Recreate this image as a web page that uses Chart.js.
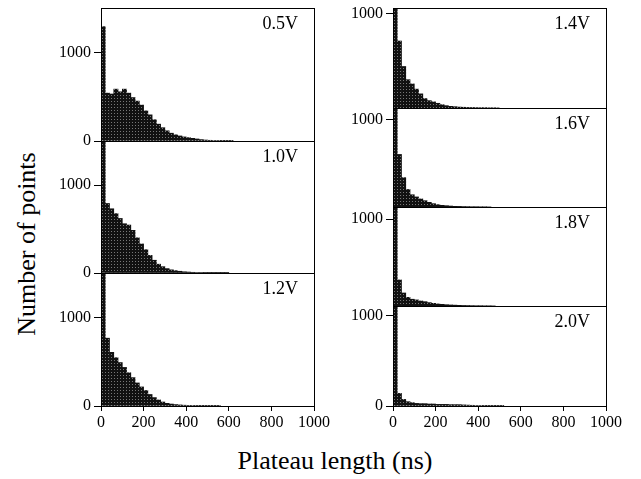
<!DOCTYPE html>
<html>
<head>
<meta charset="utf-8">
<script src="https://cdn.jsdelivr.net/npm/chart.js@4.4.0/dist/chart.umd.min.js"></script>
<style>
  body { margin: 0; background: #fff; width: 641px; height: 479px; position: relative; overflow: hidden; font-family: "Liberation Serif", serif; }
  canvas { position: absolute; }
  .title { position: absolute; color: #000; white-space: nowrap; font-size: 26px; line-height: 26px; }
  #xTitle { left: 335px; top: 448px; transform: translateX(-50%); }
  #yTitle { left: 27px; top: 244px; transform: translate(-50%, -50%) rotate(-90deg); }
</style>
</head>
<body>
<div class="title" id="xTitle">Plateau length (ns)</div>
<div class="title" id="yTitle">Number of points</div>
<script>
// --- datos: histogramas de longitud de meseta (bins de 20 ns) ---
const binStarts = [0, 20, 40, 60, 80, 100, 120, 140, 160, 180, 200, 220, 240, 260, 280, 300, 320, 340, 360, 380,
                   400, 420, 440, 460, 480, 500, 520, 540, 560, 580, 600, 620, 640, 660, 680, 700];
const panelLabels = ['0.5V', '1.0V', '1.2V', '1.4V', '1.6V', '1.8V', '2.0V'];

const counts05 = [1290, 540, 530, 585, 555, 585, 540, 490, 450, 405, 340, 295, 240, 190, 150, 115, 88, 70, 57, 46,
                  38, 30, 23, 16, 11, 8, 6, 5, 4, 3, 2];
const counts10 = [1650, 790, 730, 675, 620, 560, 545, 485, 400, 330, 265, 200, 145, 100, 72, 50, 36, 27, 20, 14,
                  11, 8, 6, 5, 4, 3, 3, 2, 2, 1];
const counts12 = [1650, 765, 605, 545, 490, 435, 375, 320, 260, 215, 175, 130, 95, 68, 45, 30, 22, 16, 12, 9,
                  7, 5, 4, 3, 3, 2, 2, 1];
const counts14 = [1400, 710, 440, 300, 255, 200, 150, 100, 78, 65, 50, 35, 25, 18, 14, 10, 8, 6, 5, 4,
                  3, 3, 2, 2, 1];
const counts16 = [1400, 600, 335, 200, 140, 115, 92, 72, 53, 38, 27, 19, 15, 11, 8, 7, 5, 4, 3, 3,
                  2, 2, 1];
const counts18 = [1400, 300, 150, 100, 78, 70, 58, 50, 39, 31, 24, 19, 15, 12, 10, 8, 6, 5, 4, 3,
                  3, 2, 2, 1];
const counts20 = [1400, 140, 73, 48, 37, 29, 26, 26, 22, 22, 18, 18, 18, 15, 15, 15, 12, 10, 8, 6,
                  5, 4, 3, 2, 2, 1];

const xTicks = [0, 200, 400, 600, 800, 1000];
const yTicksLeft = [0, 1000];
const yTicksRight = [1000];
const yTicksRightBottom = [0, 1000];
const yMaxLeft = [1500, 1500, 1500];
const yMaxRight = [1060, 1130, 1140, 1110];

// --- geometría de los paneles (px de la página) ---
const AXIS_W = 48, PAD_T = 16, PAD_R = 22, PAD_B = 16, XAXIS_H = 28, PLOT_W = 213;

const panels = [
  { label: panelLabels[0], data: counts05, left: 101, top: 8,   h: 133, yMax: yMaxLeft[0],  yTicks: yTicksLeft,  bottom: false },
  { label: panelLabels[1], data: counts10, left: 101, top: 141, h: 132, yMax: yMaxLeft[1],  yTicks: yTicksLeft,  bottom: false },
  { label: panelLabels[2], data: counts12, left: 101, top: 273, h: 133, yMax: yMaxLeft[2],  yTicks: yTicksLeft,  bottom: true },
  { label: panelLabels[3], data: counts14, left: 393, top: 8,   h: 100, yMax: yMaxRight[0], yTicks: yTicksRight, bottom: false },
  { label: panelLabels[4], data: counts16, left: 393, top: 108, h: 99,  yMax: yMaxRight[1], yTicks: yTicksRight, bottom: false },
  { label: panelLabels[5], data: counts18, left: 393, top: 207, h: 99,  yMax: yMaxRight[2], yTicks: yTicksRight, bottom: false },
  { label: panelLabels[6], data: counts20, left: 393, top: 306, h: 100, yMax: yMaxRight[3], yTicks: yTicksRightBottom, bottom: true }
];

// relleno tipo trama (barras negras con puntos grises)
function makePattern() {
  const c = document.createElement('canvas');
  c.width = 3; c.height = 3;
  const g = c.getContext('2d');
  g.fillStyle = '#111'; g.fillRect(0, 0, 3, 3);
  g.fillStyle = '#777'; g.fillRect(1, 1, 1, 1);
  return g.createPattern(c, 'repeat');
}

// marco del panel + etiqueta de voltaje
const framePlugin = {
  id: 'panelFrame',
  afterDatasetsDraw(chart, args, opts) {
    const { ctx, chartArea: a } = chart;
    ctx.save();
    ctx.strokeStyle = '#000';
    ctx.lineWidth = 1;
    ctx.strokeRect(a.left + 0.5, a.top + 0.5, a.right - a.left, a.bottom - a.top);
    ctx.fillStyle = '#000';
    ctx.font = '18px "Liberation Serif"';
    ctx.textAlign = 'right';
    ctx.textBaseline = 'alphabetic';
    ctx.fillText(opts.label, a.right - 16, a.top + 21);
    ctx.restore();
  }
};

const tickFont = { family: 'Liberation Serif', size: 16 };
const plain = v => String(v);

panels.forEach(p => {
  const cv = document.createElement('canvas');
  const w = AXIS_W + PLOT_W + PAD_R;
  const h = PAD_T + p.h + (p.bottom ? XAXIS_H + 2 : PAD_B);
  cv.width = w; cv.height = h;
  cv.style.left = (p.left - AXIS_W) + 'px';
  cv.style.top = (p.top - PAD_T) + 'px';
  document.body.appendChild(cv);

  const pts = p.data.map((v, i) => ({ x: binStarts[i] + 10, y: v }));

  new Chart(cv, {
    type: 'bar',
    data: {
      datasets: [{
        data: pts,
        backgroundColor: makePattern(),
        borderWidth: 0,
        barPercentage: 1,
        categoryPercentage: 1
      }]
    },
    options: {
      responsive: false,
      animation: false,
      devicePixelRatio: 1,
      layout: { padding: { top: PAD_T, right: PAD_R, bottom: p.bottom ? 2 : PAD_B, left: 0 } },
      plugins: {
        legend: { display: false },
        tooltip: { enabled: false },
        panelFrame: { label: p.label }
      },
      scales: {
        x: {
          type: 'linear', min: 0, max: 1000, offset: false, display: p.bottom,
          afterBuildTicks: s => { s.ticks = xTicks.map(v => ({ value: v })); },
          afterFit: s => { if (p.bottom) s.height = XAXIS_H; },
          grid: { drawOnChartArea: false, drawTicks: true, tickLength: 5, color: '#000', offset: false },
          border: { display: false },
          ticks: { color: '#000', font: tickFont, padding: 2, maxRotation: 0, autoSkip: false, callback: plain }
        },
        y: {
          min: 0, max: p.yMax,
          afterBuildTicks: s => { s.ticks = p.yTicks.map(v => ({ value: v })); },
          afterFit: s => { s.width = AXIS_W; },
          grid: { drawOnChartArea: false, drawTicks: true, tickLength: 7, color: '#000' },
          border: { display: false },
          ticks: { color: '#000', font: tickFont, padding: 3, callback: plain }
        }
      }
    },
    plugins: [framePlugin]
  });
});
</script>
</body>
</html>
